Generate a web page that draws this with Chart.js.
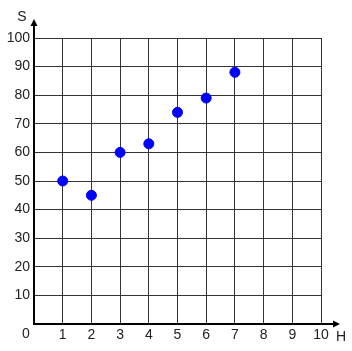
<!DOCTYPE html>
<html>
<head>
<meta charset="utf-8">
<script src="https://cdn.jsdelivr.net/npm/chart.js@4"></script>
<style>
  html, body { margin: 0; padding: 0; background: #fff; }
  #wrap { width: 352px; height: 351px; }
</style>
</head>
<body>
<div id="wrap"><canvas id="scatterChart" width="352" height="351"></canvas></div>
<script>
// Values
const hValues = [1, 2, 3, 4, 5, 6, 7];
const sValues = [50, 45, 60, 63, 74, 79, 88];
const xAxisTitle = "H";
const yAxisTitle = "S";

const labelFont = { family: "'Liberation Sans', Arial, sans-serif", size: 14 };

//Draws the arrows, the axis letters and the shared "0" at the origin
const axisArrows = {
    id: 'axisArrows',
    afterDraw(chart) {
        const ctx = chart.ctx;
        const x = chart.scales.x;
        const y = chart.scales.y;
        const ox = x.getPixelForValue(0);
        const oy = y.getPixelForValue(0);
        ctx.save();
        ctx.strokeStyle = '#000';
        ctx.fillStyle = '#000';
        ctx.lineWidth = 2;
        // y axis
        ctx.beginPath();
        ctx.moveTo(ox, oy + 1);
        ctx.lineTo(ox, y.top - 12);
        ctx.stroke();
        ctx.beginPath();
        ctx.moveTo(ox, y.top - 19);
        ctx.lineTo(ox - 3.5, y.top - 12);
        ctx.lineTo(ox + 3.5, y.top - 12);
        ctx.closePath();
        ctx.fill();
        // x axis
        ctx.beginPath();
        ctx.moveTo(ox - 1, oy);
        ctx.lineTo(x.right + 12, oy);
        ctx.stroke();
        ctx.beginPath();
        ctx.moveTo(x.right + 19, oy);
        ctx.lineTo(x.right + 12, oy - 3.5);
        ctx.lineTo(x.right + 12, oy + 3.5);
        ctx.closePath();
        ctx.fill();
        // letters
        ctx.font = "14px 'Liberation Sans', Arial, sans-serif";
        ctx.fillStyle = '#222';
        ctx.textAlign = 'center';
        ctx.textBaseline = 'middle';
        ctx.fillText(yAxisTitle, ox - 12, y.top - 21);
        ctx.fillText(xAxisTitle, x.right + 20, oy + 13);
        ctx.fillText('0', ox - 8, oy + 10);
        ctx.restore();
    }
};

const chartData = {
    datasets: [{
        label: "S vs H",
        data: hValues.map((h, i) => ({ x: h, y: sValues[i] })),
        backgroundColor: '#0000ff',
        borderColor: '#0000ff',
        pointRadius: 5,
        pointHoverRadius: 5,
        showLine: false
    }]
};

const chartOptions = {
    responsive: false,
    animation: false,
    layout: { padding: { top: 38, right: 31, left: 0, bottom: 0 } },
    plugins: {
        legend: { display: false },
        tooltip: { enabled: false }
    },
    scales: {
        x: {
            type: 'linear',
            min: 0,
            max: 10,
            ticks: {
                stepSize: 1,
                padding: 3,
                color: '#222',
                font: labelFont,
                maxRotation: 0,
                callback: v => (v === 0 ? '' : v)
            },
            grid: { color: '#333', lineWidth: 1, drawTicks: false },
            border: { display: false },
            afterFit(scale) { scale.height = 27; }
        },
        y: {
            type: 'linear',
            min: 0,
            max: 100,
            ticks: {
                stepSize: 10,
                padding: 4,
                color: '#222',
                font: labelFont,
                callback: v => (v === 0 ? '' : v)
            },
            grid: { color: '#333', lineWidth: 1, drawTicks: false },
            border: { display: false },
            afterFit(scale) { scale.width = 34; }
        }
    }
};

const ctx = document.getElementById('scatterChart').getContext('2d');
new Chart(ctx, {
    type: 'scatter',
    data: chartData,
    options: chartOptions,
    plugins: [axisArrows]
});
</script>
</body>
</html>
